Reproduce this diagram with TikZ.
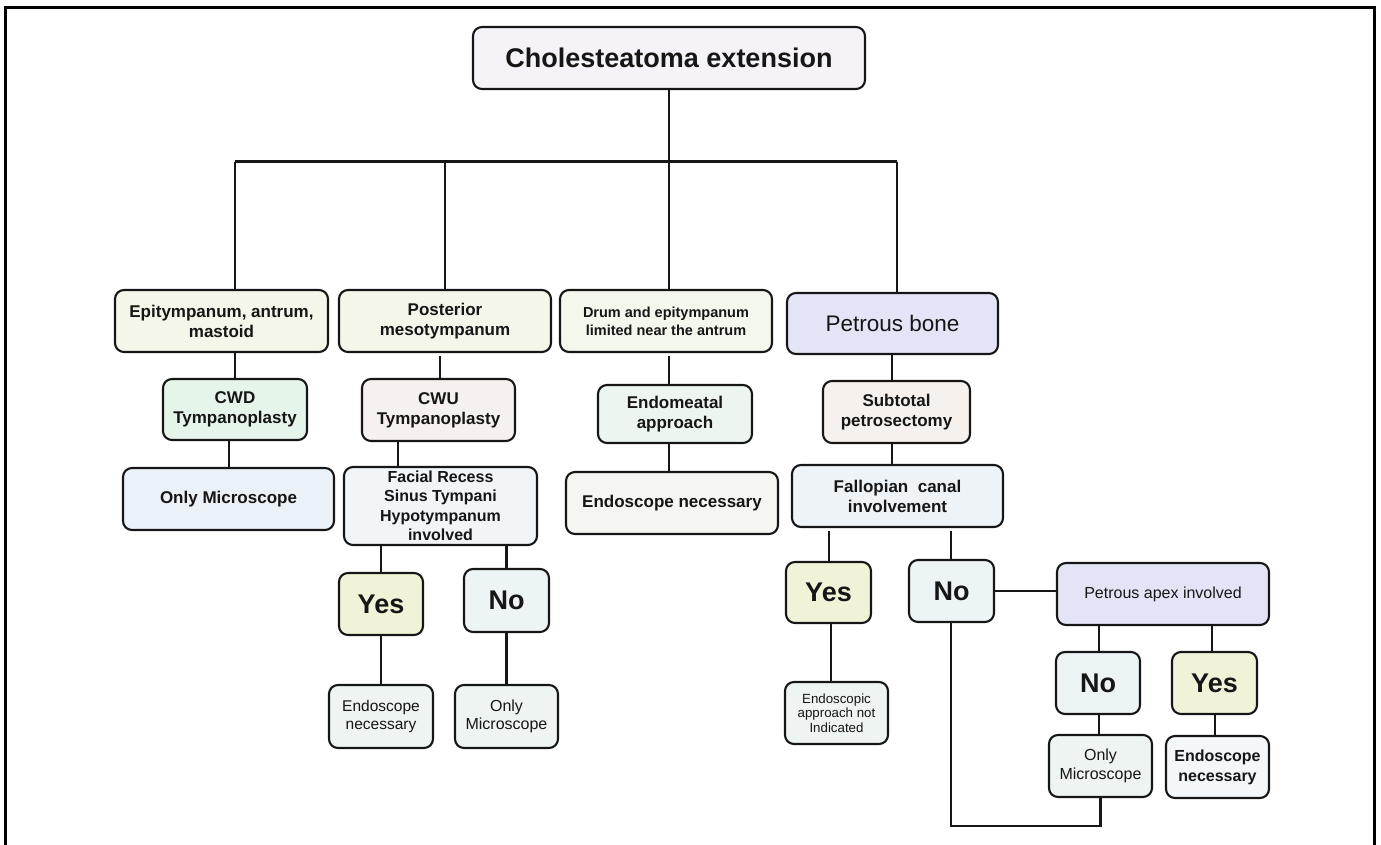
\documentclass[tikz,border=0pt]{standalone}
\usepackage{fontspec}
\setmainfont{Liberation Sans}
\definecolor{cTitle}{HTML}{F5F3F7}
\definecolor{cEpi}{HTML}{F3F6E8}
\definecolor{cDrum}{HTML}{F4F7EC}
\definecolor{cPetr}{HTML}{E4E4F7}
\definecolor{cCWD}{HTML}{E6F5EA}
\definecolor{cCWU}{HTML}{F6F0EF}
\definecolor{cOnly}{HTML}{EAF1F7}
\definecolor{cFacial}{HTML}{F1F5F8}
\definecolor{cEndoM}{HTML}{EDF5F0}
\definecolor{cEndoN}{HTML}{F5F6F2}
\definecolor{cSubt}{HTML}{F6F1EC}
\definecolor{cFall}{HTML}{EEF3F8}
\definecolor{cYes}{HTML}{F1F3D8}
\definecolor{cNo}{HTML}{EDF4F5}
\definecolor{cSmall}{HTML}{EDF4F1}
\definecolor{cEndoT}{HTML}{F4F7FA}
\definecolor{ink}{HTML}{161616}
\tikzset{
  box/.style={draw=ink, rounded corners=9, line width=2.1, align=center, inner sep=0, text=ink},
  conn/.style={draw=ink, line width=2.1},
}
\begin{document}
\begin{tikzpicture}[x=1pt,y=-1pt]
\useasboundingbox (0,0) rectangle (1381,844);
\draw[line width=2.4] (5.5,850) -- (5.5,7.5) -- (1374.5,7.5) -- (1374.5,850);

% nodes
\node[box, fill=cTitle, minimum width=392, minimum height=62, font=\bfseries\fontsize{27}{30}\selectfont] (title) at (669,58) {Cholesteatoma extension};

\node[box, fill=cEpi, minimum width=213, minimum height=62, font=\bfseries\fontsize{17}{20}\selectfont] (epi) at (221.5,321) {Epitympanum, antrum,\\mastoid};
\node[box, fill=cEpi, minimum width=212, minimum height=62, font=\bfseries\fontsize{17}{20}\selectfont] (post) at (445,321) {Posterior\\mesotympanum};
\node[box, fill=cDrum, minimum width=212, minimum height=62, font=\bfseries\fontsize{14.5}{18}\selectfont] (drum) at (666,321) {Drum and epitympanum\\limited near the antrum};
\node[box, fill=cPetr, minimum width=211, minimum height=61, font=\fontsize{22.5}{26}\selectfont] (petr) at (892.5,323.5) {Petrous bone};

\node[box, fill=cCWD, minimum width=144, minimum height=61, font=\bfseries\fontsize{17}{20}\selectfont] (cwd) at (235,409.5) {CWD\\Tympanoplasty};
\node[box, fill=cCWU, minimum width=153, minimum height=62, font=\bfseries\fontsize{17}{20}\selectfont] (cwu) at (438.5,410) {CWU\\Tympanoplasty};
\node[box, fill=cEndoM, minimum width=154, minimum height=58, font=\bfseries\fontsize{17}{20}\selectfont] (endom) at (675,414) {Endomeatal\\approach};
\node[box, fill=cSubt, minimum width=147, minimum height=62, font=\bfseries\fontsize{17}{20}\selectfont] (subt) at (896.5,412) {Subtotal\\petrosectomy};

\node[box, fill=cOnly, minimum width=211, minimum height=62, font=\bfseries\fontsize{17}{20}\selectfont] (only1) at (228.5,499) {Only Microscope};
\node[box, fill=cFacial, minimum width=193, minimum height=78, font=\bfseries\fontsize{16}{19.5}\selectfont] (facial) at (440.5,506) {Facial Recess\\Sinus Tympani\\Hypotympanum\\involved};
\node[box, fill=cEndoN, minimum width=212, minimum height=62, font=\bfseries\fontsize{17}{20}\selectfont] (endon) at (672,503) {Endoscope necessary};
\node[box, fill=cFall, minimum width=211, minimum height=62, font=\bfseries\fontsize{17}{20}\selectfont] (fall) at (897.5,496) {Fallopian\ \ canal\\involvement};

\node[box, fill=cYes, minimum width=84, minimum height=62, font=\bfseries\fontsize{27}{30}\selectfont] (yes1) at (381,604) {Yes};
\node[box, fill=cNo, minimum width=85, minimum height=63, font=\bfseries\fontsize{27}{30}\selectfont] (no1) at (506.5,600.5) {No};
\node[box, fill=cSmall, minimum width=104, minimum height=63, font=\fontsize{15.5}{18}\selectfont] (endo2) at (381,716.5) {Endoscope\\necessary};
\node[box, fill=cSmall, minimum width=103, minimum height=63, font=\fontsize{16}{18}\selectfont] (only2) at (506.5,716.5) {Only\\Microscope};

\node[box, fill=cYes, minimum width=85, minimum height=61, font=\bfseries\fontsize{27}{30}\selectfont] (yes2) at (828.5,592.5) {Yes};
\node[box, fill=cNo, minimum width=85, minimum height=62, font=\bfseries\fontsize{27}{30}\selectfont] (no2) at (951.5,591) {No};
\node[box, fill=cPetr, minimum width=212, minimum height=62, font=\fontsize{16}{19}\selectfont] (apex) at (1163,594) {Petrous apex involved};
\node[box, fill=cSmall, minimum width=103, minimum height=62, font=\fontsize{13.3}{14.6}\selectfont] (endoapp) at (836.5,713) {Endoscopic\\approach not\\Indicated};
\node[box, fill=cNo, minimum width=84, minimum height=62, font=\bfseries\fontsize{27}{30}\selectfont] (no3) at (1098,683) {No};
\node[box, fill=cYes, minimum width=85, minimum height=62, font=\bfseries\fontsize{27}{30}\selectfont] (yes3) at (1214.5,683) {Yes};
\node[box, fill=cSmall, minimum width=103, minimum height=62, font=\fontsize{16}{19}\selectfont] (only3) at (1100.5,766) {Only\\Microscope};
\node[box, fill=cEndoT, minimum width=103, minimum height=62, font=\bfseries\fontsize{16}{20}\selectfont] (endo3) at (1217.5,767) {Endoscope\\necessary};

% connectors
\coordinate (bar) at (669,161.5);
\draw[conn] (title.south) -- (title.south |- drum.north);
\draw[conn] (bar -| 235,0) -- (bar -| 897,0);
\draw[conn] (bar -| 235,0) -- (epi.north -| 235,0);
\draw[conn] (bar -| 445,0) -- (post.north -| 445,0);
\draw[conn] (bar -| 897,0) -- (petr.north -| 897,0);

\draw[conn] (epi.south -| 235,0) -- (cwd.north -| 235,0);
\draw[conn] (cwd.south -| 229,0) -- (only1.north -| 229,0);
\draw[conn] (post.south -| 440,0) ++(0,3) -- (cwu.north -| 440,0);
\draw[conn] (cwu.south -| 398,0) -- (facial.north -| 398,0);
\draw[conn] (drum.south -| 669,0) ++(0,3) -- (endom.north -| 669,0);
\draw[conn] (endom.south -| 669,0) -- (endon.north -| 669,0);
\draw[conn] (petr.south -| 892,0) -- (subt.north -| 892,0);
\draw[conn] (subt.south -| 892,0) -- (fall.north -| 892,0);

\draw[conn] (facial.south -| yes1.north) -- (yes1.north);
\draw[conn] (facial.south -| no1.north) -- (no1.north);
\draw[conn] (yes1.south) -- (endo2.north);
\draw[conn] (no1.south) -- (only2.north -| no1.south);

\draw[conn] (fall.south -| 829,0) ++(0,3) -- (yes2.north -| 829,0);
\draw[conn] (fall.south -| 951,0) ++(0,3) -- (no2.north -| 951,0);
\draw[conn] (yes2.south -| 831,0) -- (endoapp.north -| 831,0);
\draw[conn] (no2.east) -- (apex.west |- no2.east);
\draw[conn] (apex.south -| 1099,0) -- (no3.north -| 1099,0);
\draw[conn] (apex.south -| 1212,0) -- (yes3.north -| 1212,0);
\draw[conn] (no3.south -| 1099,0) -- (only3.north -| 1099,0);
\draw[conn] (yes3.south -| 1215,0) -- (endo3.north -| 1215,0);
\coordinate (loopL) at (951,826);
\draw[conn] (no2.south -| loopL) -- (loopL) -| (only3.south);
\end{tikzpicture}
\end{document}
